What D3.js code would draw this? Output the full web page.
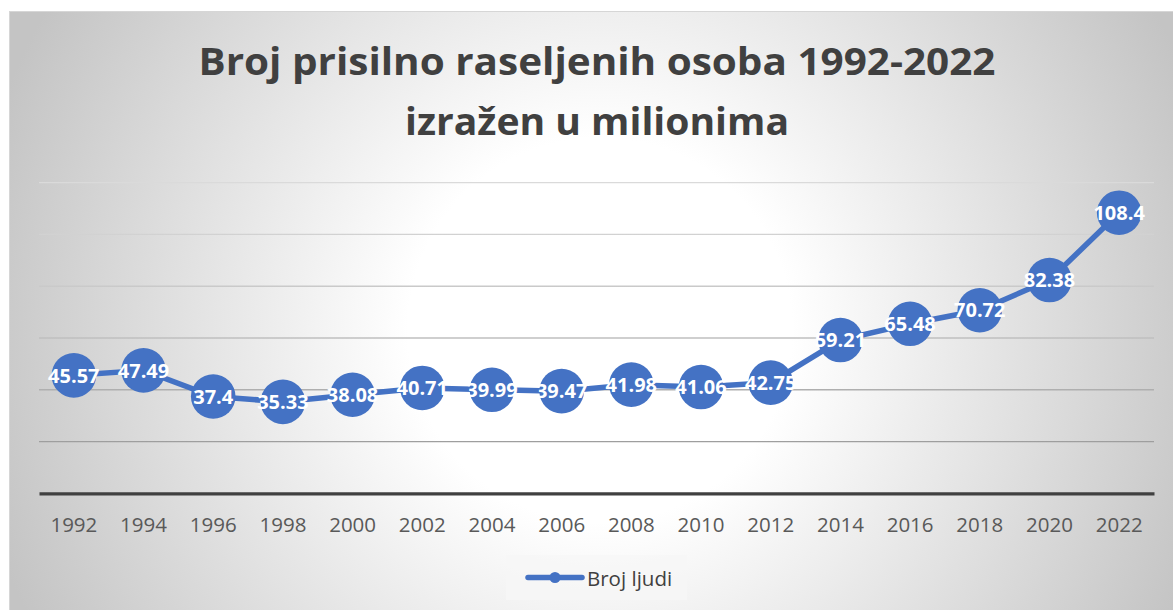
<!DOCTYPE html>
<html>
<head>
<meta charset="utf-8">
<script src="https://cdn.jsdelivr.net/npm/d3@7"></script>
<style>
  html, body { margin: 0; padding: 0; background: #fff; }
  svg { display: block; font-family: "Open Sans", sans-serif; }
</style>
</head>
<body>
<div id="chart"></div>
<script>
// data
const years = ['1992', '1994', '1996', '1998', '2000', '2002', '2004', '2006',
  '2008', '2010', '2012', '2014', '2016', '2018', '2020', '2022'];
const people = [45.57, 47.49, 37.4, 35.33, 38.08, 40.71, 39.99, 39.47,
  41.98, 41.06, 42.75, 59.21, 65.48, 70.72, 82.38, 108.4];
const yTicks = [0, 20, 40, 60, 80, 100, 120];
const titleLines = ['Broj prisilno raseljenih osoba 1992-2022', 'izražen u milionima'];
const seriesName = 'Broj ljudi';

const width = 1173, height = 610;
const margin = { top: 182.7, right: 19, bottom: 116.7, left: 39 };
const blue = '#4472C4';

const svg = d3.select('#chart').append('svg')
  .attr('width', width)
  .attr('height', height);

// background gradient
const defs = svg.append('defs');
const bg = defs.append('radialGradient')
  .attr('id', 'bgGrad')
  .attr('gradientUnits', 'userSpaceOnUse')
  .attr('cx', 600).attr('cy', 330).attr('r', 640);
bg.append('stop').attr('offset', '0%').attr('stop-color', '#ffffff');
bg.append('stop').attr('offset', '30%').attr('stop-color', '#ffffff');
bg.append('stop').attr('offset', '100%').attr('stop-color', '#c4c4c4');

const gridGrad = defs.append('linearGradient')
  .attr('id', 'gridGrad')
  .attr('gradientUnits', 'userSpaceOnUse')
  .attr('x1', 0).attr('x2', 0)
  .attr('y1', margin.top).attr('y2', height - margin.bottom);
gridGrad.append('stop').attr('offset', '0%').attr('stop-color', '#dadada');
gridGrad.append('stop').attr('offset', '45%').attr('stop-color', '#c4c4c4');
gridGrad.append('stop').attr('offset', '100%').attr('stop-color', '#8e8e8e');

svg.append('rect')
  .attr('x', 9.5).attr('y', 11.5)
  .attr('width', width).attr('height', height)
  .attr('fill', 'url(#bgGrad)')
  .attr('stroke', '#d6d6d6');

// scales
const x = d3.scaleBand()
  .domain(years)
  .range([margin.left, width - margin.right])
  .padding(0);

const y = d3.scaleLinear()
  .domain([0, 120])
  .range([height - margin.bottom, margin.top]);

// gridlines
svg.append('g')
  .selectAll('line')
  .data(yTicks.filter(d => d > 0))
  .join('line')
  .attr('x1', margin.left)
  .attr('x2', width - margin.right)
  .attr('y1', d => y(d))
  .attr('y2', d => y(d))
  .attr('stroke', 'url(#gridGrad)')
  .attr('stroke-width', 1.3);

// x axis
const xAxis = svg.append('g')
  .attr('transform', 'translate(0,' + y(0) + ')')
  .call(d3.axisBottom(x).tickSize(0).tickPadding(24));
xAxis.select('.domain')
  .attr('stroke', '#404040')
  .attr('stroke-width', 3.2);
xAxis.selectAll('text')
  .attr('fill', '#595959')
  .style('font-size', '20.5px')
  .style('font-family', '"Open Sans", sans-serif');

// line
const line = d3.line()
  .x((d, i) => x(years[i]) + x.bandwidth() / 2)
  .y(d => y(d));

svg.append('path')
  .datum(people)
  .attr('d', line)
  .attr('fill', 'none')
  .attr('stroke', blue)
  .attr('stroke-width', 5.5)
  .attr('stroke-linejoin', 'round');

// markers
svg.append('g')
  .selectAll('circle')
  .data(people)
  .join('circle')
  .attr('cx', (d, i) => x(years[i]) + x.bandwidth() / 2)
  .attr('cy', d => y(d))
  .attr('r', 22.3)
  .attr('fill', blue);

// data labels
svg.append('g')
  .selectAll('text')
  .data(people)
  .join('text')
  .attr('x', (d, i) => x(years[i]) + x.bandwidth() / 2)
  .attr('y', d => y(d))
  .attr('dy', '0.36em')
  .attr('text-anchor', 'middle')
  .attr('fill', '#ffffff')
  .style('font-size', '20px')
  .style('font-weight', 700)
  .text(d => d);

// title
const titleWidths = [797, 384];
svg.append('g')
  .selectAll('text')
  .data(titleLines)
  .join('text')
  .attr('x', 597)
  .attr('y', (d, i) => 75 + i * 60)
  .attr('text-anchor', 'middle')
  .attr('fill', '#404040')
  .style('font-size', '37.5px')
  .style('font-weight', 700)
  .attr('textLength', (d, i) => titleWidths[i])
  .attr('lengthAdjust', 'spacingAndGlyphs')
  .text(d => d);

// legend
const legend = svg.append('g');
legend.append('rect')
  .attr('x', 506).attr('y', 555)
  .attr('width', 181).attr('height', 45)
  .attr('fill', '#f7f7f7')
  .attr('fill-opacity', 0.7);
legend.append('line')
  .attr('x1', 528).attr('x2', 582)
  .attr('y1', 577.5).attr('y2', 577.5)
  .attr('stroke', blue)
  .attr('stroke-width', 5.5)
  .attr('stroke-linecap', 'round');
legend.append('circle')
  .attr('cx', 555).attr('cy', 577.5)
  .attr('r', 5.5)
  .attr('fill', blue);
legend.append('text')
  .attr('x', 587).attr('y', 585.5)
  .attr('fill', '#404040')
  .style('font-size', '20.5px')
  .text(seriesName);
</script>
</body>
</html>
